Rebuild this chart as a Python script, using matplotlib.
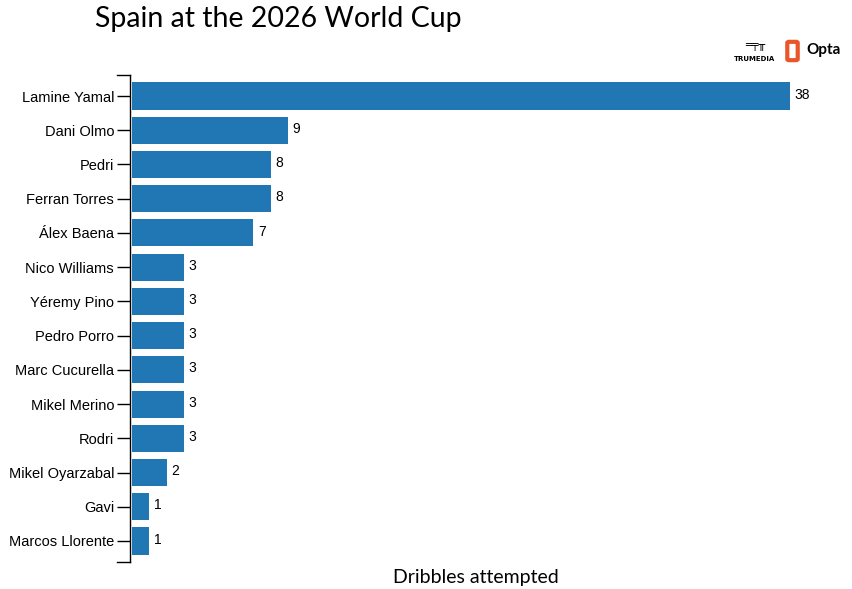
import matplotlib.pyplot as plt
from matplotlib.patches import FancyBboxPatch
from matplotlib.transforms import offset_copy

players = ['Lamine Yamal', 'Dani Olmo', 'Pedri', 'Ferran Torres', 'Álex Baena',
           'Nico Williams', 'Yéremy Pino', 'Pedro Porro', 'Marc Cucurella',
           'Mikel Merino', 'Rodri', 'Mikel Oyarzabal', 'Gavi', 'Marcos Llorente']
dribbles = [38, 9, 8, 8, 7, 3, 3, 3, 3, 3, 3, 2, 1, 1]

W, H = 853, 589
fig = plt.figure(figsize=(W / 100, H / 100), dpi=100)
ax = fig.add_axes([130 / W, 1 - 562 / H, (790 - 130) / W, (562 - 75) / H])

y = list(range(len(players)))
ax.barh(y, dribbles, height=0.79, color='#2077b4')
for yi, v in zip(y, dribbles):
    ax.annotate(str(v), (v, yi), xytext=(3.5, 1), textcoords='offset points',
                va='center', ha='left', fontsize=10, family='Liberation Sans')

ax.set_xlim(-0.115, 38)
ax.set_ylim(len(players) - 1 + 0.614, -0.614)
ax.set_yticks(y)
ax.set_yticklabels(players, fontsize=10.5, family='Liberation Sans')
ax.tick_params(axis='y', length=9.5, width=1, pad=2)
ax.set_xticks([])
for s in ['top', 'right', 'bottom']:
    ax.spines[s].set_visible(False)
ax.spines['left'].set_linewidth(1)

# tapas en los extremos del eje (estilo d3)
cap = offset_copy(ax.get_yaxis_transform(), fig=fig, x=-9.5, y=0, units='points')
for yy in ax.get_ylim():
    ax.plot([0, 0], [yy, yy], transform=ax.get_yaxis_transform(), color='black',
            lw=1, clip_on=False)
    ax.plot([-9.5 / 72 * 100 / 660, 0], [yy, yy], transform=ax.get_yaxis_transform(),
            color='black', lw=1, clip_on=False)

fig.text(95 / W, 1 - 19 / H, 'Spain at the 2026 World Cup', fontsize=20.5,
         family='Lato', va='center', ha='left')
fig.text(476 / W, 1 - 578 / H, 'Dribbles attempted', fontsize=14,
         family='Lato', va='center', ha='center')

# logos (aproximados)
fig.text(755 / W, 1 - 59 / H, 'TRUMEDIA', fontsize=5, weight='bold',
         family='DejaVu Sans', ha='center', va='center')
fig.text(755 / W, 1 - 46 / H, '═╤╥', fontsize=8, weight='bold',
         family='DejaVu Sans', ha='center', va='center')
fig.patches.append(FancyBboxPatch((789 / W, 1 - 59 / H), 7 / W, 16 / H,
                                  boxstyle='round,pad=0.002', fc='white',
                                  ec='#e8562a', lw=3, transform=fig.transFigure))
fig.text(806 / W, 1 - 50 / H, 'Opta', fontsize=11, weight='bold',
         family='Lato', ha='left', va='center')

fig.savefig('out.png', dpi=100)
